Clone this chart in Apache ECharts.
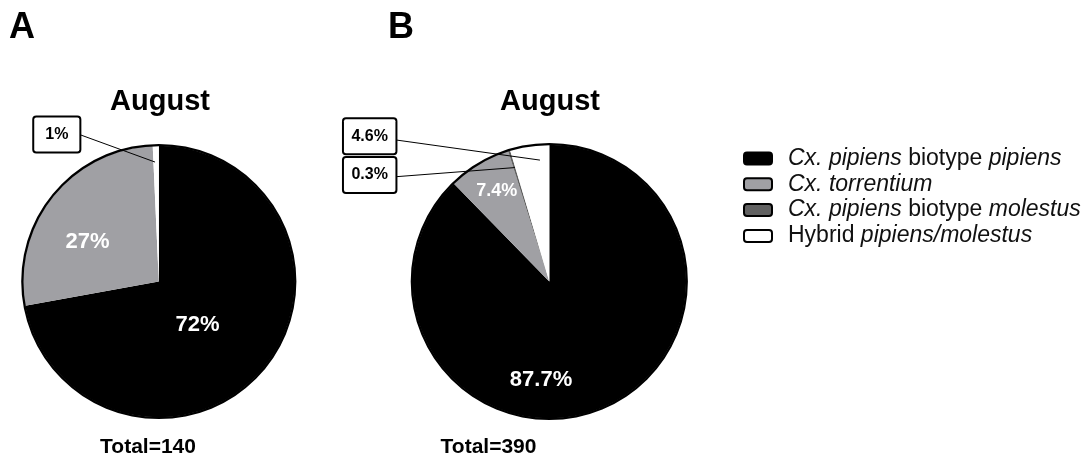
<!DOCTYPE html>
<html>
<head>
<meta charset="utf-8">
<script src="https://cdn.jsdelivr.net/npm/echarts@6/dist/echarts.min.js"></script>
<style>
  html, body { margin: 0; padding: 0; background: #fff; }
  #chart { width: 1090px; height: 458px; }
</style>
</head>
<body>
<div id="chart"></div>
<script>
// Species categories (order = clockwise from 12 o'clock)
const speciesNames = ['pipiens', 'torrentium', 'molestus', 'hybrid'];
const legendLabels = [
  '{i|Cx. pipiens} biotype {i|pipiens}',
  '{i|Cx. torrentium}',
  '{i|Cx. pipiens} biotype {i|molestus}',
  'Hybrid {i|pipiens/molestus}'
];
const speciesColors = ['#000000', '#a0a0a4', '#616161', '#ffffff'];

// Specimen counts per panel (August)
const panelLetters = ['A', 'B'];
const panelTitles = ['August', 'August'];
const countsA = [101, 38, 0, 1];
const countsB = [342, 29, 1, 18];
const percentDigits = [0, 1];

const FONT = '"Liberation Sans", Arial, Helvetica, sans-serif';

// Geometry and label placement for each panel
const panels = [
  {
    counts: countsA, digits: percentDigits[0], cx: 158.8, cy: 281.5, r: 135.8,
    letterX: 9, titleX: 160, totalX: 148,
    spots: [
      { dx: 38.7, dy: 43.5, size: 22 },
      { dx: -71.3, dy: -39.5, size: 22 },
      null,
      { box: [56.8, 134.5], halfW: 24, lineDy: 0.5, frac: 0.3, rf: 0.88, pad: [8, 11] }
    ]
  },
  {
    counts: countsB, digits: percentDigits[1], cx: 549.3, cy: 281.5, r: 136.8,
    letterX: 388, titleX: 550, totalX: 488.5,
    spots: [
      { dx: -8.3, dy: 98.5, size: 22 },
      { dx: -52.6, dy: -90, size: 18 },
      { box: [369.7, 175], halfW: 26.5, lineDy: 1.7, frac: 0.8, rf: 0.87, pad: [8, 7.5] },
      { box: [369.7, 136.2], halfW: 26.5, lineDy: 3.8, frac: 0.735, rf: 0.89, pad: [8, 7.5] }
    ]
  }
];

function sum(arr) { return arr.reduce((a, b) => a + b, 0); }

// angle (degrees clockwise from north) at a fraction through slice idx
function sliceAngle(counts, idx, frac) {
  const total = sum(counts);
  let start = 0;
  for (let i = 0; i < idx; i++) start += counts[i];
  return ((start + frac * counts[idx]) / total) * 360;
}

// leader line from the boxed label into its slice
function leaderPoints(panel, idx) {
  const spot = panel.spots[idx];
  const [bx, by] = spot.box;
  const a = sliceAngle(panel.counts, idx, spot.frac) * Math.PI / 180;
  const rr = panel.r * spot.rf;
  return [[bx + spot.halfW, by + spot.lineDy],
          [panel.cx + rr * Math.sin(a), panel.cy - rr * Math.cos(a)]];
}

function makeLayout(panel) {
  return function (p) {
    const spot = panel.spots[p.dataIndex];
    if (!spot) return {};
    if (spot.box) {
      return { x: spot.box[0], y: spot.box[1], align: 'center', verticalAlign: 'middle' };
    }
    return { x: panel.cx + spot.dx, y: panel.cy + spot.dy, align: 'center', verticalAlign: 'middle' };
  };
}

function buildData(panel) {
  return panel.counts.map((v, i) => {
    const spot = panel.spots[i];
    const item = { name: speciesNames[i], value: v, itemStyle: { color: speciesColors[i] } };
    item.labelLine = { show: false };
    if (!spot) {
      item.label = { show: false };
    } else if (spot.box) {
      item.label = {
        show: true, position: 'outside', color: '#000', fontSize: 16, fontWeight: 'bold',
        fontFamily: FONT, lineHeight: 18, backgroundColor: '#fff', borderColor: '#000',
        borderWidth: 2, borderRadius: 2, padding: spot.pad
      };
    } else {
      item.label = {
        show: true, position: 'inside', color: '#fff', fontSize: spot.size,
        fontWeight: 'bold', fontFamily: FONT
      };
    }
    return item;
  });
}

const series = [];
const leaderLines = [];
panels.forEach(panel => {
  series.push({
    type: 'pie',
    center: [panel.cx, panel.cy],
    radius: [0, panel.r],
    startAngle: 90,
    clockwise: true,
    avoidLabelOverlap: false,
    percentPrecision: panel.digits,
    label: { formatter: p => p.percent + '%' },
    labelLayout: makeLayout(panel),
    itemStyle: { borderWidth: 0 },
    emphasis: { disabled: true },
    animation: false,
    data: buildData(panel)
  });
  // black outline around the pie
  series.push({
    type: 'pie',
    center: [panel.cx, panel.cy],
    radius: [panel.r - 0.5, panel.r + 1.8],
    silent: true,
    label: { show: false },
    labelLine: { show: false },
    emphasis: { disabled: true },
    animation: false,
    itemStyle: { color: '#000' },
    data: [{ name: 'outline', value: 1 }]
  });
  panel.spots.forEach((spot, i) => {
    if (spot && spot.box) {
      leaderLines.push({
        type: 'polyline', z: 100, silent: true,
        shape: { points: leaderPoints(panel, i) },
        style: { stroke: '#000', lineWidth: 1, fill: null }
      });
    }
  });
});

const titles = [];
panels.forEach((panel, k) => {
  titles.push({
    text: panelLetters[k], left: panel.letterX, top: 10, padding: 0,
    textStyle: { fontSize: 36, fontWeight: 'bold', color: '#000', fontFamily: FONT }
  });
  titles.push({
    text: panelTitles[k], left: panel.titleX, top: 87, padding: 0, textAlign: 'center',
    textStyle: { fontSize: 29, fontWeight: 'bold', color: '#000', fontFamily: FONT }
  });
  titles.push({
    text: 'Total=' + sum(panel.counts), left: panel.totalX, top: 437, padding: 0, textAlign: 'center',
    textStyle: { fontSize: 21, fontWeight: 'bold', color: '#000', fontFamily: FONT }
  });
});

const chart = echarts.init(document.getElementById('chart'), null, { renderer: 'canvas' });
chart.setOption({
  backgroundColor: '#fff',
  animation: false,
  title: titles,
  graphic: leaderLines,
  legend: {
    data: speciesNames,
    orient: 'vertical',
    left: 743,
    top: 147,
    padding: 0,
    icon: 'roundRect',
    itemWidth: 28,
    itemHeight: 12,
    itemGap: 2.8,
    selectedMode: false,
    itemStyle: { borderColor: '#000', borderWidth: 2 },
    formatter: name => legendLabels[speciesNames.indexOf(name)],
    textStyle: {
      fontSize: 23, lineHeight: 23, color: '#111', fontFamily: FONT,
      padding: [0, 0, 0, 11],
      rich: { i: { fontStyle: 'italic', fontSize: 23, lineHeight: 23, color: '#111', fontFamily: FONT } }
    }
  },
  series: series
});
</script>
</body>
</html>
